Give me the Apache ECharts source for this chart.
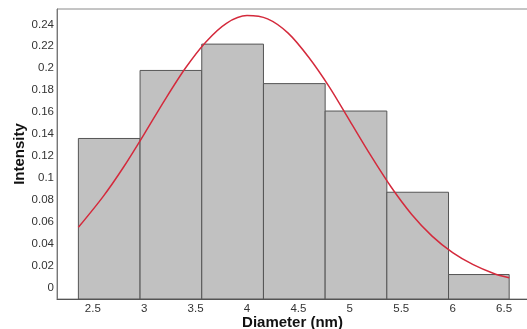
<!DOCTYPE html>
<html>
<head>
<meta charset="utf-8">
<script src="https://cdn.jsdelivr.net/npm/echarts@6/dist/echarts.min.js"></script>
<style>
html,body{margin:0;padding:0;background:#fff;}
#c{width:527px;height:329px;}
</style>
</head>
<body>
<div id="c"></div>
<script>
// Histogram bins (diameter, nm)
var binStart = [2.36, 2.96, 3.56, 4.16, 4.76, 5.36, 5.96];
var binEnd   = [2.96, 3.56, 4.16, 4.76, 5.36, 5.96, 6.55];
var binHeight = [0.136, 0.198, 0.222, 0.186, 0.161, 0.087, 0.012];

// Fitted curve, values
var curveX = [2.36, 2.6, 2.8, 3.0, 3.2, 3.4, 3.6, 3.8, 4.0, 4.2, 4.4, 4.6, 4.8, 5.0, 5.2, 5.4, 5.6, 5.8, 6.0, 6.2, 6.4, 6.55];
var curveY = [0.055, 0.083, 0.110, 0.140, 0.171, 0.200, 0.224, 0.241, 0.248, 0.245, 0.232, 0.210, 0.183, 0.152, 0.121, 0.092, 0.067, 0.047, 0.032, 0.021, 0.013, 0.009];

// Tick labels
var xTicks = [2.5, 3, 3.5, 4, 4.5, 5, 5.5, 6, 6.5];
var yTicks = [0, 0.02, 0.04, 0.06, 0.08, 0.1, 0.12, 0.14, 0.16, 0.18, 0.2, 0.22, 0.24];

var xMin = 2.152, xMax = 6.733;
var yMin = -0.0103, yMax = 0.254;

var barData = binStart.map(function (s, i) { return [s, binEnd[i], binHeight[i]]; });
var lineData = curveX.map(function (x, i) { return [x, curveY[i]]; });

var chart = echarts.init(document.getElementById('c'), null, {renderer: 'canvas'});
chart.setOption({
  animation: false,
  backgroundColor: '#fff',
  grid: {left: 57, right: -1, top: 9, bottom: 30, containLabel: false, outerBoundsMode: 'none',
    show: true, borderColor: '#8a8a8a', borderWidth: 1, backgroundColor: 'transparent'},
  xAxis: {
    type: 'value', min: xMin, max: xMax,
    name: 'Diameter (nm)', nameLocation: 'middle', nameGap: 16, nameMoveOverlap: false,
    nameTextStyle: {fontFamily: 'Liberation Sans, Arial', fontWeight: 'bold', fontSize: 15, color: '#111'},
    axisLine: {show: true, onZero: false, lineStyle: {color: '#555', width: 1}},
    axisTick: {show: false, customValues: xTicks},
    axisLabel: {customValues: xTicks, fontFamily: 'Liberation Sans, Arial', fontSize: 11.5, color: '#333', margin: 4,
      formatter: function (v) { return String(v); }},
    splitLine: {show: false}
  },
  yAxis: {
    type: 'value', min: yMin, max: yMax,
    name: 'Intensity', nameLocation: 'middle', nameGap: 30, nameMoveOverlap: false,
    nameTextStyle: {fontFamily: 'Liberation Sans, Arial', fontWeight: 'bold', fontSize: 15, color: '#111'},
    axisLine: {show: true, onZero: false, lineStyle: {color: '#777', width: 1}},
    axisTick: {show: false, customValues: yTicks},
    axisLabel: {customValues: yTicks, fontFamily: 'Liberation Sans, Arial', fontSize: 11.5, color: '#333', margin: 3,
      formatter: function (v) { return String(Math.round(v * 100) / 100); }},
    splitLine: {show: false}
  },
  series: [
    {
      type: 'custom',
      data: barData,
      encode: {x: [0, 1], y: 2},
      renderItem: function (params, api) {
        var p0 = api.coord([api.value(0), api.value(2)]);
        var p1 = api.coord([api.value(1), yMin]);
        return {
          type: 'rect',
          shape: {x: p0[0], y: p0[1], width: p1[0] - p0[0], height: p1[1] - p0[1]},
          style: {fill: '#c1c1c1', stroke: '#555', lineWidth: 1}
        };
      },
      z: 2
    },
    {
      type: 'line',
      data: lineData,
      smooth: 0.3,
      showSymbol: false,
      lineStyle: {color: '#d42a3c', width: 1.5},
      z: 3
    }
  ]
});
</script>
</body>
</html>
